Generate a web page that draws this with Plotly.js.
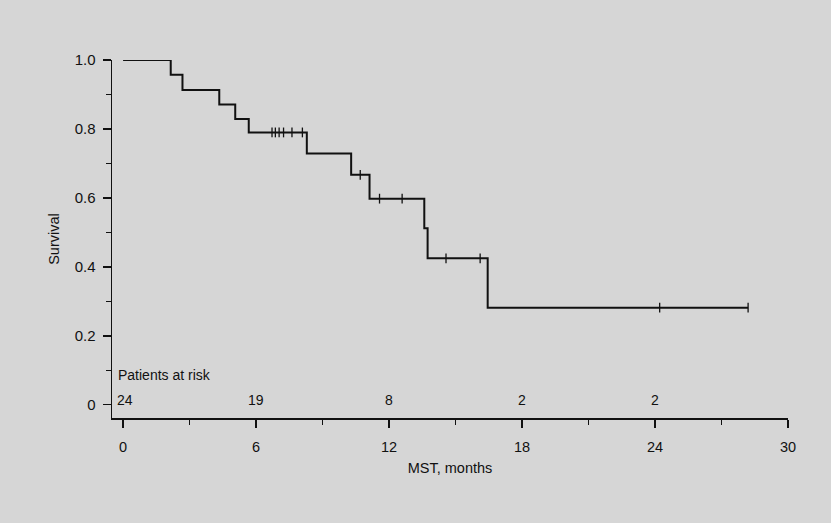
<!DOCTYPE html>
<html>
<head>
<meta charset="utf-8">
<script src="https://cdn.plot.ly/plotly-3.0.1.min.js"></script>
<style>html,body{margin:0;padding:0;background:#d6d6d6;}#chart{width:831px;height:523px;}</style>
</head>
<body>
<div id="chart"></div>
<script>
// Kaplan-Meier steps (months, survival)
const stepMonths   = [0, 2.15, 2.68, 4.34, 5.06, 5.67, 8.29, 10.29, 11.12, 13.59, 13.74, 16.45, 28.2];
const stepSurvival = [1.0, 0.957, 0.913, 0.871, 0.829, 0.790, 0.729, 0.667, 0.598, 0.512, 0.425, 0.282, 0.282];
// censored observations (months)
const censorMonths = [6.72, 6.87, 7.04, 7.24, 7.62, 8.09, 10.7, 11.57, 12.59, 14.57, 16.11, 24.21, 28.2];
// patients at risk
const atRiskMonths = [0, 6, 12, 18, 24];
const atRiskCounts = [24, 19, 8, 2, 2];
// axis ticks
const xTickVals = [0, 6, 12, 18, 24, 30];
const yTickVals = [0, 0.2, 0.4, 0.6, 0.8, 1.0];
const yTickText = ['0', '0.2', '0.4', '0.6', '0.8', '1.0'];

function survivalAt(t) {
  let s = stepSurvival[0];
  for (let i = 0; i < stepMonths.length; i++) { if (stepMonths[i] <= t) s = stepSurvival[i]; }
  return s;
}
const censorSurvival = censorMonths.map(survivalAt);

const ink = '#111111';
const fontFam = '"Liberation Sans", Arial, sans-serif';

const traces = [
  {x: stepMonths, y: stepSurvival, mode: 'lines', line: {shape: 'hv', color: ink, width: 2},
   cliponaxis: false, hoverinfo: 'skip', showlegend: false},
  {x: censorMonths, y: censorSurvival, mode: 'markers',
   marker: {symbol: 'line-ns', size: 7, line: {color: ink, width: 1.3}},
   cliponaxis: false, showlegend: false}
];

const annotations = atRiskMonths.map((m, i) => ({
  x: i === 0 ? m + 0.1 : m, y: 0.015, xref: 'x', yref: 'y', text: String(atRiskCounts[i]), showarrow: false,
  font: {family: fontFam, size: 14, color: ink}, xanchor: 'center', yanchor: 'middle'
}));
annotations.push({x: -0.3, y: 0.087, xref: 'x', yref: 'y', text: 'Patients at risk', showarrow: false,
  font: {family: fontFam, size: 14, color: ink}, xanchor: 'left', yanchor: 'middle'});

const layout = {
  width: 831, height: 523,
  margin: {l: 112, r: 43, t: 60, b: 105},
  paper_bgcolor: '#d6d6d6', plot_bgcolor: '#d6d6d6',
  font: {family: fontFam, size: 14, color: ink},
  showlegend: false,
  xaxis: {
    range: [-0.5, 30], tickvals: xTickVals, ticks: 'outside', ticklen: 8, tickwidth: 1.2, tickcolor: ink,
    ticklabelstandoff: 7,
    showline: true, linecolor: ink, linewidth: 1.5, showgrid: false, zeroline: false,
    minor: {tickvals: [3, 9, 15, 21, 27], ticks: 'outside', ticklen: 5, tickcolor: ink, tickwidth: 1.2, showgrid: false},
    title: {text: 'MST, months', font: {family: fontFam, size: 14.5, color: ink}, standoff: 9},
    tickfont: {family: fontFam, size: 14.5, color: ink}
  },
  yaxis: {
    range: [-0.038, 1.0], tickvals: yTickVals, ticktext: yTickText, ticks: 'outside', ticklen: 8, tickwidth: 1.2, tickcolor: ink,
    ticklabelstandoff: 4,
    showline: true, linecolor: ink, linewidth: 1.5, showgrid: false, zeroline: false,
    minor: {tickvals: [0.1, 0.3, 0.5, 0.7, 0.9], ticks: 'outside', ticklen: 5, tickcolor: ink, tickwidth: 1.2, showgrid: false},
    title: {text: 'Survival', font: {family: fontFam, size: 14.5, color: ink}, standoff: 11},
    tickfont: {family: fontFam, size: 15, color: ink}
  },
  annotations: annotations
};

Plotly.newPlot('chart', traces, layout, {displayModeBar: false, staticPlot: true});
</script>
</body>
</html>
